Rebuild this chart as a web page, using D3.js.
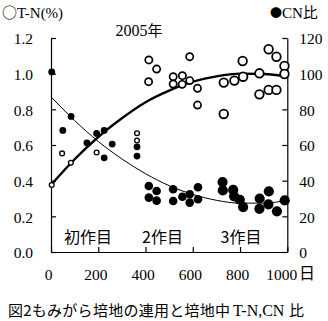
<!DOCTYPE html>
<html>
<head>
<meta charset="utf-8">
<script src="https://cdn.jsdelivr.net/npm/d3@7"></script>
<style>
  body { margin: 0; background: #fff; }
  svg { display: block; }
</style>
</head>
<body>
<script>
const w = 328;
const h = 321;

// crop labels and where they sit
const cropLabels = ["初作目", "2作目", "3作目"];
const cropLabelDays = [157, 472, 804];

// T-N (%) : [day, value]
const tnCrop1 = [[3, 0.376], [47, 0.553], [84, 0.50], [193, 0.558], [364, 0.666], [364, 0.625]];
const tnCrop2 = [[414, 1.077], [447, 1.026], [413, 0.955], [587, 1.095], [517, 0.983], [556, 0.989],
    [587, 0.961], [517, 0.942], [555, 0.94], [620, 0.918], [620, 0.824]];
const tnCrop3 = [[731, 0.95], [731, 0.774], [776, 0.961], [811, 1.071], [813, 0.983], [882, 1.002],
    [882, 0.884], [921, 0.909], [954, 0.909], [921, 1.137], [954, 1.095], [988, 1.043], [988, 0.998]];

// CN ratio : [day, value]
const cnCrop1 = [[3, 101], [50, 68.2], [85, 76], [152, 61.2], [193, 66.5], [225, 68.2], [225, 52.8],
    [259, 60.5], [364, 59], [364, 53.8]];
const cnCrop2 = [[414, 37], [447, 34.2], [414, 30.5], [447, 28.8], [517, 35.2], [517, 28.6], [556, 31],
    [587, 32.4], [587, 27.7], [622, 36.3], [622, 29.6]];
const cnCrop3 = [[726, 39.2], [727, 34.5], [771, 34.8], [775, 31.2], [799, 29.3], [813, 25.2], [883, 30],
    [882, 24.2], [922, 34], [920, 26.7], [956, 22.8], [989, 29]];

// trend lines
const trendDays = [0, 100, 200, 300, 400, 500, 600, 700, 800, 900, 1000];
const tnTrend = [0.376, 0.52, 0.645, 0.75, 0.84, 0.905, 0.955, 0.985, 1.0, 0.998, 0.983];
const cnTrend = [87, 73.7, 62, 52.2, 43.9, 37.2, 32.3, 29.0, 27.4, 27.4, 29];

const xTicks = [0, 200, 400, 600, 800, 1000];
const tnTicks = [0, 0.2, 0.4, 0.6, 0.8, 1.0, 1.2];
const cnTicks = [0, 20, 40, 60, 80, 100, 120];

const serif = "'Liberation Serif', 'Times New Roman', serif";
const cjk = "'Noto Sans CJK JP', sans-serif";

const svg = d3.select('body').append('svg').attr('width', w).attr('height', h);

const x = d3.scaleLinear().domain([0, 1000]).range([51, 287.3]);
const yL = d3.scaleLinear().domain([0, 1.2]).range([252, 38]);
const yR = d3.scaleLinear().domain([0, 120]).range([252, 38]);

// axes
svg.append('g')
    .attr('transform', `translate(0,${yL(0)})`)
    .call(d3.axisBottom(x).tickValues(xTicks).tickSizeInner(-5).tickSizeOuter(0).tickFormat(d3.format('d')))
    .call(g => g.selectAll('text').attr('y', 28).attr('dy', 0).attr('dx', d => d === 1000 ? -6 : -3));

svg.append('g')
    .attr('transform', `translate(${x(0)},0)`)
    .call(d3.axisLeft(yL).tickValues(tnTicks).tickSizeInner(-5).tickSizeOuter(0).tickFormat(d3.format('.1f')))
    .call(g => g.selectAll('text').attr('x', -18).attr('dy', '0.38em'));

svg.append('g')
    .attr('transform', `translate(${x(1000)},0)`)
    .call(d3.axisRight(yR).tickValues(cnTicks).tickSizeInner(-5).tickSizeOuter(0))
    .call(g => g.selectAll('text').attr('x', 12).attr('dy', '0.38em'));

svg.selectAll('.domain').attr('stroke', '#000').attr('stroke-width', 1.2);
svg.selectAll('.tick line').attr('stroke', '#000').attr('stroke-width', 1.2);
svg.selectAll('.tick text')
    .attr('font-family', serif)
    .attr('font-size', '15.5px')
    .attr('fill', '#000');

// trend lines
const trendLine = (scale, vals) => d3.line()
    .x(d => x(d))
    .y((d, i) => scale(vals[i]))
    .curve(d3.curveMonotoneX)(trendDays);

svg.append('path')
    .attr('d', trendLine(yR, cnTrend))
    .attr('fill', 'none')
    .attr('stroke', '#000')
    .attr('stroke-width', 1);

svg.append('path')
    .attr('d', trendLine(yL, tnTrend))
    .attr('fill', 'none')
    .attr('stroke', '#000')
    .attr('stroke-width', 2.4);

// markers
function filled(data, r) {
    svg.append('g').selectAll('circle')
        .data(data)
        .enter()
        .append('circle')
        .attr('cx', d => x(d[0]))
        .attr('cy', d => yR(d[1]))
        .attr('r', r)
        .attr('fill', '#000');
}

function open(data, r, sw) {
    svg.append('g').selectAll('circle')
        .data(data)
        .enter()
        .append('circle')
        .attr('cx', d => x(d[0]))
        .attr('cy', d => yL(d[1]))
        .attr('r', r)
        .attr('fill', '#fff')
        .attr('stroke', '#000')
        .attr('stroke-width', sw);
}

open(tnCrop1, 2.4, 1.3);
filled(cnCrop1, 3.4);
open(tnCrop2, 3.6, 1.7);
filled(cnCrop2, 4.3);
open(tnCrop3, 4.3, 1.8);
filled(cnCrop3, 5.1);

// crop labels
svg.selectAll('.crop')
    .data(cropLabels)
    .enter()
    .append('text')
    .attr('x', (d, i) => x(cropLabelDays[i]))
    .attr('y', 243)
    .attr('text-anchor', 'middle')
    .attr('font-family', cjk)
    .attr('font-size', '16px')
    .attr('fill', '#000')
    .text(d => d);

// titles
const yearTitle = svg.append('text')
    .attr('x', 139).attr('y', 36)
    .attr('text-anchor', 'middle');
yearTitle.append('tspan').attr('font-family', serif).attr('font-size', '16px').text('2005');
yearTitle.append('tspan').attr('font-family', cjk).attr('font-size', '15px').text('年');

const leftTitle = svg.append('text').attr('x', 2).attr('y', 18).attr('font-size', '15px');
leftTitle.append('tspan').attr('font-family', cjk).text('○');
leftTitle.append('tspan').attr('font-family', serif).text('T-N(%)');

const rightTitle = svg.append('text').attr('x', 270).attr('y', 18).attr('font-size', '15px');
rightTitle.append('tspan').attr('font-family', cjk).attr('font-size', '12px').text('●');
rightTitle.append('tspan').attr('font-family', serif).text('CN');
rightTitle.append('tspan').attr('font-family', cjk).text('比');

svg.append('text')
    .attr('x', 299).attr('y', 279)
    .attr('font-family', cjk)
    .attr('font-size', '16px')
    .text('日');

// caption
svg.append('text')
    .attr('x', 8).attr('y', 316)
    .attr('font-family', cjk)
    .attr('font-size', '15px')
    .attr('textLength', 222)
    .attr('lengthAdjust', 'spacing')
    .text('図2もみがら培地の連用と培地中');
svg.append('text')
    .attr('x', 233).attr('y', 316)
    .attr('font-family', serif)
    .attr('font-size', '16px')
    .text('T-N,CN');
svg.append('text')
    .attr('x', 289).attr('y', 316)
    .attr('font-family', cjk)
    .attr('font-size', '15px')
    .text('比');
</script>
</body>
</html>
